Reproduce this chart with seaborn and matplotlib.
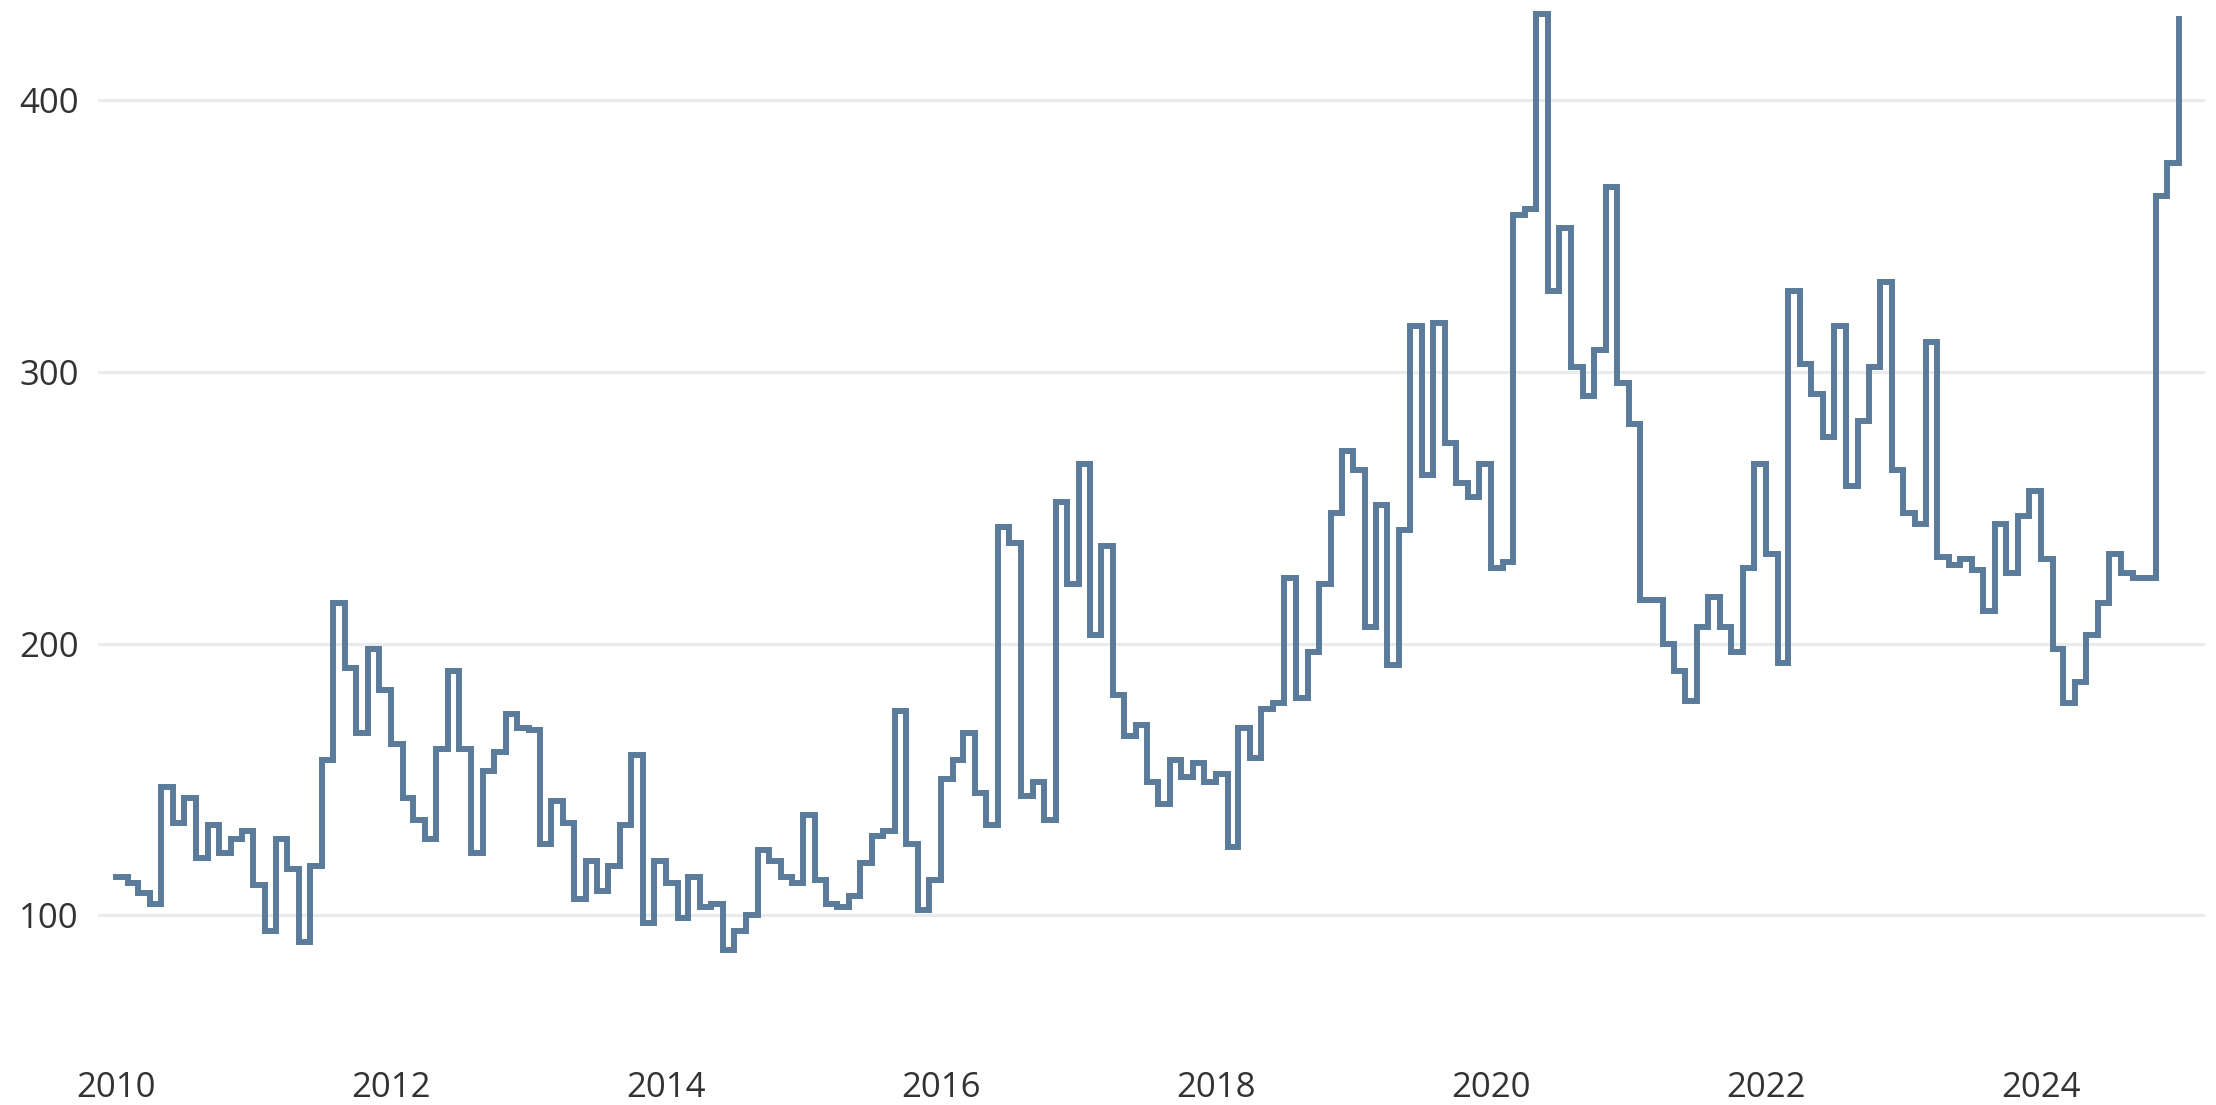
import numpy as np
import pandas as pd
import matplotlib
matplotlib.use("Agg")
import matplotlib.pyplot as plt
import seaborn as sns

# Monthly values, Jan..Dec of each year
v2010 = [114, 112, 108, 104, 147, 134, 143, 121, 133, 123, 128, 131]
v2011 = [111, 94, 128, 117, 90, 118, 157, 215, 191, 167, 198, 183]
v2012 = [163, 143, 135, 128, 161, 190, 161, 123, 153, 160, 174, 169]
v2013 = [168, 126, 142, 134, 106, 120, 109, 118, 133, 159, 97, 120]
v2014 = [112, 99, 114, 103, 104, 87, 94, 100, 124, 120, 114, 112]
v2015 = [137, 113, 104, 103, 107, 119, 129, 131, 175, 126, 102, 113]
v2016 = [150, 157, 167, 145, 133, 243, 237, 144, 149, 135, 252, 222]
v2017 = [266, 203, 236, 181, 166, 170, 149, 141, 157, 151, 156, 149]
v2018 = [152, 125, 169, 158, 176, 178, 224, 180, 197, 222, 248, 271]
v2019 = [264, 206, 251, 192, 242, 317, 262, 318, 274, 259, 254, 266]
v2020 = [228, 230, 358, 360, 432, 330, 353, 302, 291, 308, 368, 296]
v2021 = [281, 216, 216, 200, 190, 179, 206, 217, 206, 197, 228, 266]
v2022 = [233, 193, 330, 303, 292, 276, 317, 258, 282, 302, 333, 264]
v2023 = [248, 244, 311, 232, 229, 231, 227, 212, 244, 226, 247, 256]
v2024 = [231, 198, 178, 186, 203, 215, 233, 226, 224, 224, 365, 377]
v2025 = [430]

values = (v2010 + v2011 + v2012 + v2013 + v2014 + v2015 + v2016 + v2017 +
          v2018 + v2019 + v2020 + v2021 + v2022 + v2023 + v2024 + v2025)
start_month = "2010-01-01"
dates = pd.date_range(start_month, periods=len(values), freq="MS")
df = pd.DataFrame({"date": dates, "value": values})

tick_years = [2010, 2012, 2014, 2016, 2018, 2020, 2022, 2024]
y_ticks = [100, 200, 300, 400]

sns.set_theme(style="white")
plt.rcParams["font.family"] = ["Open Sans", "DejaVu Sans"]

W, H = 2216, 1105
fig = plt.figure(figsize=(W / 100, H / 100), dpi=100)
ax = fig.add_axes([98 / W, (H - 1040) / H, (2205 - 98) / W, 1040 / H])

for y in y_ticks:
    ax.axhline(y, color="#e9ecef", lw=2.2, zorder=0)

sns.lineplot(data=df, x="date", y="value", ax=ax, color="#5a7b9a",
             linewidth=4.3, drawstyle="steps-post", solid_joinstyle="miter",
             solid_capstyle="projecting")

ax.set_ylim(54, 437)
ax.set_xlim(pd.Timestamp("2009-11-14"), pd.Timestamp("2025-03-12"))
ax.set_yticks(y_ticks)
ax.set_yticklabels([str(v) for v in y_ticks])
ax.set_xticks([pd.Timestamp(f"{y}-01-01") for y in tick_years])
ax.set_xticklabels([str(y) for y in tick_years])
ax.tick_params(axis="y", length=0, pad=14, labelsize=25, labelcolor="#333333")
ax.tick_params(axis="x", length=0, pad=22, labelsize=25, labelcolor="#333333")
ax.set_xlabel("")
ax.set_ylabel("")
for s in ax.spines.values():
    s.set_visible(False)
ax.grid(False)

fig.savefig("out.png", dpi=100, facecolor="white")
